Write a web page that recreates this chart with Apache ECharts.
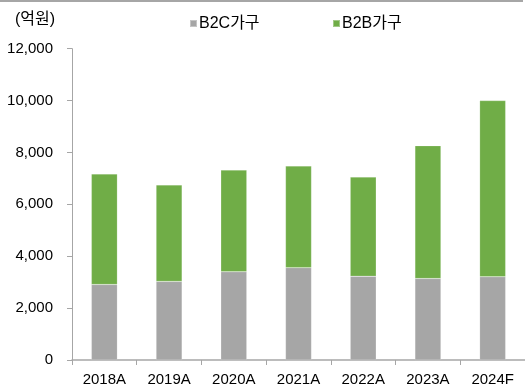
<!DOCTYPE html>
<html>
<head>
<meta charset="utf-8">
<script src="https://cdn.jsdelivr.net/npm/echarts@6/dist/echarts.min.js"></script>
<style>
html,body{margin:0;padding:0;background:#fff;}
#c{width:525px;height:387px;}
</style>
</head>
<body>
<div id="c"></div>
<script>
const categories = ['2018A','2019A','2020A','2021A','2022A','2023A','2024F'];
const b2c = [2910, 3030, 3400, 3560, 3230, 3140, 3210];
const b2b = [4260, 3720, 3920, 3920, 3820, 5120, 6790];
const seriesNames = ['B2C가구','B2B가구'];
const unitLabel = '(억원)';

const FONT = '"Liberation Sans", Arial, "Noto Sans CJK KR", sans-serif';
const chart = echarts.init(document.getElementById('c'), null, {renderer:'canvas'});
const legendBase = {
  top: 10.5, itemWidth: 7, itemHeight: 7, icon: 'rect',
  textStyle: {fontSize: 16, color:'#000', fontFamily: FONT, padding:[0,0,0,-3]}
};
chart.setOption({
  animation: false,
  backgroundColor: '#fff',
  textStyle: {fontFamily: FONT},
  graphic: [
    {type:'rect', left:0, top:0, shape:{x:0,y:0,width:523,height:2}, style:{fill:'#a6a6a6'}},
    {type:'text', x:15, y:19.5, style:{text:unitLabel, font:'16px ' + FONT, fill:'#000', verticalAlign:'middle'}}
  ],
  legend: [
    Object.assign({left: 184, data: [seriesNames[0]]}, legendBase),
    Object.assign({left: 327, data: [seriesNames[1]]}, legendBase)
  ],
  grid: {left: 72, top: 48.7, bottom: 26.3, right: -2.5, containLabel: false},
  xAxis: {
    type: 'category', data: categories,
    axisLine: {lineStyle:{color:'#a6a6a6', width:1.5}},
    axisTick: {show:true, length:5, lineStyle:{color:'#a6a6a6'}},
    axisLabel: {color:'#000', fontSize:15, margin:12, fontFamily: FONT}
  },
  yAxis: {
    type: 'value', min: 0, max: 12000, interval: 2000,
    splitLine: {show:false},
    axisLine: {show:true, lineStyle:{color:'#a6a6a6', width:1}},
    axisTick: {show:true, length:5, lineStyle:{color:'#a6a6a6'}},
    axisLabel: {color:'#000', fontSize:15, margin:19, fontFamily: FONT,
      formatter: v => v.toLocaleString('en-US')}
  },
  series: [
    {name: seriesNames[0], type:'bar', stack:'t', data:b2c, barWidth:26,
      itemStyle:{color:'#a6a6a6', borderColor:'rgba(255,255,255,0.35)', borderWidth:0.5}},
    {name: seriesNames[1], type:'bar', stack:'t', data:b2b, barWidth:26,
      itemStyle:{color:'#70ad47', borderColor:'rgba(255,255,255,0.35)', borderWidth:0.5}}
  ]
});
</script>
</body>
</html>
